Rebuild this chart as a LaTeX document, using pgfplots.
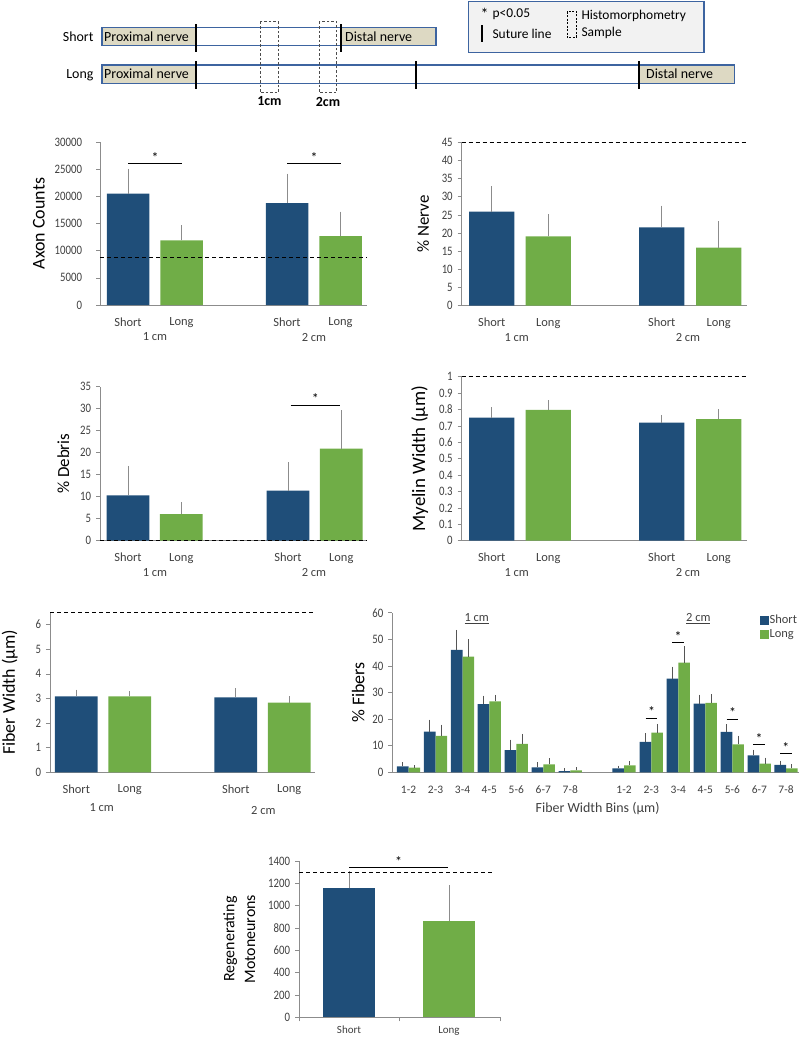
\documentclass[border=0pt]{standalone}
\usepackage{fontspec}
\setmainfont{Carlito}
\usepackage{pgfplots}
\pgfplotsset{compat=1.18}
\definecolor{cblue}{HTML}{1F4E79}
\definecolor{cgreen}{HTML}{70AD47}
\definecolor{ctan}{HTML}{DDD9C3}
\definecolor{boxblue}{HTML}{3D64A0}
\definecolor{axisgray}{HTML}{8C8C8C}
\definecolor{tickgray}{HTML}{404040}
\definecolor{errgray}{HTML}{8C8C8C}
\definecolor{errdark}{HTML}{555555}
\newcommand{\fs}[1]{\fontsize{#1}{#1}\selectfont}
\pgfplotsset{
  panel/.style={
    scale only axis, clip=false, ybar, bar shift=0pt,
    anchor=south west,
    axis x line*=bottom, axis y line*=left,
    axis line style={draw=axisgray, line width=0.8pt},
    ymin=0, scaled y ticks=false,
    ytick style={draw=axisgray, line width=0.6pt},
    major tick length=4bp, tick align=outside,
    xtick style={draw=none},
    tick label style={font=\fs{10.8}, text=tickgray},
    yticklabel style={yscale=1.2, xshift=-1.5bp},
    xticklabel style={font=\fs{12.5}, text=tickgray, yshift=-5bp},
    /pgf/number format/assume math mode=true,
    /pgf/number format/1000 sep={},
    ylabel style={font=\fs{17}, text=black},
  },
  sbar/.style={fill=cblue, draw=none, bar width=#1,
    error bars/.cd, y dir=plus, y explicit,
    error bar style={errgray, line width=0.7pt},
    error mark options={errgray, line width=0.7pt, mark size=1.3bp}},
  gbar/.style={fill=cgreen, draw=none, bar width=#1,
    error bars/.cd, y dir=plus, y explicit,
    error bar style={errgray, line width=0.7pt},
    error mark options={errgray, line width=0.7pt, mark size=1.3bp}},
  hsbar/.style={fill=cblue, draw=none, bar width=#1,
    error bars/.cd, y dir=plus, y explicit,
    error bar style={errdark, line width=0.7pt},
    error mark options={errdark, line width=0.7pt, mark size=1.2bp}},
  hgbar/.style={fill=cgreen, draw=none, bar width=#1,
    error bars/.cd, y dir=plus, y explicit,
    error bar style={errdark, line width=0.7pt},
    error mark options={errdark, line width=0.7pt, mark size=1.2bp}},
  refline/.style={sharp plot, black, line width=1pt, dash pattern=on 4bp off 3bp, forget plot},
  sig/.style={sharp plot, black, line width=0.8pt, forget plot},
}
\tikzset{
  star/.style={above, inner sep=1bp, font=\fs{14}},
  grp/.style={yshift=-32bp, font=\fs{12.5}, text=tickgray},
}
\begin{document}
\begin{tikzpicture}
\useasboundingbox (0,0) rectangle (800bp,-1037bp);
\begin{scope}[x=1bp,y=-1bp, font=\fs{14}]
% short
\node[anchor=east] at (97,36.7) {Short};
\fill[ctan] (102,27.7) rectangle (196.4,45.7);
\fill[ctan] (341.8,27.7) rectangle (436,45.7);
\draw[boxblue, line width=1.2pt] (102,27.7) rectangle (436,45.7);
\node[anchor=west, inner sep=1bp] at (103,36.7) {Proximal nerve};
\node[anchor=west, inner sep=1bp] at (344,36.7) {Distal nerve};
% long
\node[anchor=east] at (97,75) {Long};
\fill[ctan] (102,65) rectangle (196.4,83.3);
\fill[ctan] (638.8,65) rectangle (734.7,83.3);
\draw[boxblue, line width=1.2pt] (102,65) rectangle (734.7,83.3);
\node[anchor=west, inner sep=1bp] at (103,74.2) {Proximal nerve};
\node[anchor=west, inner sep=1bp] at (645,74.2) {Distal nerve};
% suture lines
\draw[line width=2pt] (196.4,24.3) -- (196.4,51.7);
\draw[line width=2pt] (340.8,24.3) -- (340.8,51.7);
\draw[line width=2pt] (196.4,61) -- (196.4,89.3);
\draw[line width=2pt] (415.8,61) -- (415.8,89.3);
\draw[line width=2pt] (638.8,61) -- (638.8,89.3);
% samples
\draw[black!70, line width=0.7pt, dash pattern=on 2.5bp off 2bp] (260,21.7) rectangle (278,92.7);
\draw[black!70, line width=0.7pt, dash pattern=on 2.5bp off 2bp] (319.4,21.7) rectangle (336.7,92.7);
\node[font=\fs{14}\bfseries] at (269.4,101.5) {1cm};
\node[font=\fs{14}\bfseries] at (328,101.5) {2cm};
% legend box
\draw[boxblue, fill=black!5, line width=1.2pt] (468.4,1.2) rectangle (704,52.3);
\node[font=\fs{16}] at (484.7,14) {*};
\node[anchor=west, font=\fs{13.5}] at (489,14.5) {p<0.05};
\draw[line width=2pt] (482,25) -- (482,41.7);
\node[anchor=west, font=\fs{13.5}] at (489,33.5) {Suture line};
\draw[line width=0.6pt, dash pattern=on 2bp off 1.5bp] (567,11.7) rectangle (576.5,37.3);
\node[anchor=west, font=\fs{13.5}] at (578,16) {Histomorphometry};
\node[anchor=west, font=\fs{13.5}] at (578,32.7) {Sample};
\end{scope}

% ---------- Axon counts
\begin{axis}[panel, at={(100bp,-305bp)}, width=267bp, height=163bp,
  xmin=100, xmax=367, ymax=30000, ytick={0,5000,...,30000},
  yticklabel style={xshift=-9bp},
  xtick={128,181.5,287,340.5}, xticklabels={Short,Long,Short,Long},
  ylabel={Axon Counts}, ylabel style={font=\fs{18}}, ylabel shift=3bp]
\addplot[sbar=42.5] coordinates {(128,20500) +- (0,4300) (287,18750) +- (0,5200)};
\addplot[gbar=42.5] coordinates {(181.5,11900) +- (0,2500) (340.5,12700) +- (0,4250)};
\addplot[refline] coordinates {(100,8700) (367,8700)};
\addplot[sig] coordinates {(128,26000) (182,26000)};
\addplot[sig] coordinates {(287,26000) (341,26000)};
\node[star] at (axis cs:155,26000) {*};
\node[star] at (axis cs:314,26000) {*};
\node[grp] at (axis cs:155,0) {1 cm};
\node[grp] at (axis cs:314,0) {2 cm};
\end{axis}

% ---------- % Nerve
\begin{axis}[panel, at={(461.7bp,-305.7bp)}, width=285bp, height=163.4bp,
  xmin=461.7, xmax=746.7, ymax=45, ytick={0,5,...,45},
  xtick={491.7,548.3,661.7,718.7}, xticklabels={Short,Long,Short,Long},
  ylabel={\% Nerve}, ylabel shift=6bp]
\addplot[sbar=45.3] coordinates {(491.7,25.9) +- (0,6.7) (661.7,21.6) +- (0,5.6)};
\addplot[gbar=45.3] coordinates {(548.3,19.1) +- (0,5.7) (718.7,16.0) +- (0,6.9)};
\addplot[refline] coordinates {(461.7,45) (746.7,45)};
\node[grp] at (axis cs:516.7,0) {1 cm};
\node[grp] at (axis cs:688,0) {2 cm};
\end{axis}

% ---------- % Debris
\begin{axis}[panel, at={(100bp,-540.7bp)}, width=266.7bp, height=154bp,
  xmin=100, xmax=366.7, ymax=35, ytick={0,5,...,35},
  xtick={128,181.3,288,341.3}, xticklabels={Short,Long,Short,Long},
  ylabel={\% Debris}, ylabel shift=4bp]
\addplot[sbar=42.7] coordinates {(128,10.3) +- (0,6.4) (288,11.4) +- (0,6.1)};
\addplot[gbar=42.7] coordinates {(181.3,6.06) +- (0,2.4) (341.3,20.9) +- (0,8.4)};
\addplot[refline] coordinates {(100,0) (366.7,0)};
\addplot[sig] coordinates {(290.7,30.8) (340,30.8)};
\node[star] at (axis cs:315.3,30.8) {*};
\node[grp] at (axis cs:155,0) {1 cm};
\node[grp] at (axis cs:314,0) {2 cm};
\end{axis}

% ---------- Myelin width
\begin{axis}[panel, at={(461.7bp,-540.7bp)}, width=285bp, height=164bp,
  xmin=461.7, xmax=746.7, ymax=1, ytick={0,0.1,0.2,0.3,0.4,0.5,0.6,0.7,0.8,0.9,1},
  yticklabels={0,0.1,0.2,0.3,0.4,0.5,0.6,0.7,0.8,0.9,1},
  xtick={491.7,548.3,661.7,718.7}, xticklabels={Short,Long,Short,Long},
  ylabel={Myelin Width (µm)}, ylabel style={font=\fs{19}}, ylabel shift=4bp]
\addplot[sbar=45.3] coordinates {(491.7,0.75) +- (0,0.057) (661.7,0.72) +- (0,0.04)};
\addplot[gbar=45.3] coordinates {(548.3,0.797) +- (0,0.05) (718.7,0.742) +- (0,0.053)};
\addplot[refline] coordinates {(461.7,1) (746.7,1)};
\node[grp] at (axis cs:516.7,0) {1 cm};
\node[grp] at (axis cs:688,0) {2 cm};
\end{axis}

% ---------- Fiber width
\begin{axis}[panel, at={(50bp,-772.3bp)}, width=265bp, height=160bp,
  xmin=50, xmax=315, ymax=6.5, ytick={0,1,...,6},
  xtick={76.3,129.7,235.8,289.2}, xticklabels={Short,Long,Short,Long},
  ylabel={Fiber Width (µm)}, ylabel style={font=\fs{18}}, ylabel shift=11bp]
\addplot[sbar=42.8] coordinates {(76.3,3.08) +- (0,0.23) (235.8,3.04) +- (0,0.32)};
\addplot[gbar=42.8] coordinates {(129.7,3.08) +- (0,0.17) (289.2,2.83) +- (0,0.2)};
\addplot[refline] coordinates {(50,6.5) (315,6.5)};
\node[grp, yshift=-3bp] at (axis cs:101.7,0) {1 cm};
\node[grp, yshift=-6bp] at (axis cs:263.3,0) {2 cm};
\end{axis}

% ---------- % Fibers histogram
\begin{axis}[panel, at={(392.3bp,-772.3bp)}, width=406.7bp, height=159.6bp,
  xmin=392.3, xmax=799, ymax=60, ytick={0,10,...,60},
  xtick={408.5,435.5,462.5,489.3,516.3,543.3,570.3,624,651.3,678.3,705.3,732.3,759.3,786},
  xticklabels={1-2,2-3,3-4,4-5,5-6,6-7,7-8,1-2,2-3,3-4,4-5,5-6,6-7,7-8},
  xticklabel style={font=\fs{11.5}, yshift=-1bp},
  ylabel={\% Fibers}, ylabel style={font=\fs{18}}, ylabel shift=1bp,
  xlabel={Fiber Width Bins (µm)}, xlabel style={font=\fs{14}, text=tickgray, yshift=-2bp, xshift=2bp},
  legend style={at={(0.903,0.995)}, anchor=north west, draw=none, fill=none,
    font=\fs{12.5}, text=tickgray, row sep=1bp, inner sep=0pt, nodes={inner sep=1.5bp}},
  legend cell align=left]
\addlegendimage{legend image code/.code={\fill[cblue] (0bp,-4bp) rectangle (8bp,4bp);}}
\addlegendentry{Short}
\addlegendimage{legend image code/.code={\fill[cgreen] (0bp,-4bp) rectangle (8bp,4bp);}}
\addlegendentry{Long}
\addplot[forget plot, hsbar=11.6] coordinates {
 (402.7,2.26) +- (0,1.1) (429.7,15.3) +- (0,4.1) (456.7,46.0) +- (0,7.1) (483.5,25.6) +- (0,2.8)
 (510.5,8.3) +- (0,3.5) (537.5,1.9) +- (0,1.4) (564.5,0.4) +- (0,0.6)
 (618.2,1.5) +- (0,0.6) (645.5,11.4) +- (0,2.9) (672.5,35.2) +- (0,4.1) (699.5,25.8) +- (0,3.0)
 (726.5,15.2) +- (0,2.5) (753.5,6.4) +- (0,1.7) (780.2,2.8) +- (0,1.1)};
\addplot[forget plot, hgbar=11.6] coordinates {
 (414.3,1.75) +- (0,0.5) (441.3,13.7) +- (0,3.8) (468.3,43.5) +- (0,6.0) (495.1,26.7) +- (0,2.0)
 (522.1,10.7) +- (0,3.3) (549.1,3.0) +- (0,1.9) (576.1,0.75) +- (0,0.75)
 (629.8,2.6) +- (0,1.2) (657.1,14.9) +- (0,2.9) (684.1,41.2) +- (0,5.7) (711.1,26.1) +- (0,2.8)
 (738.1,10.5) +- (0,2.8) (765.1,3.3) +- (0,1.8) (791.8,1.5) +- (0,1.1)};
\addplot[sig] coordinates {(645.7,20.4) (657.3,20.4)};
\addplot[sig] coordinates {(672.3,48.9) (684,48.9)};
\addplot[sig] coordinates {(726.7,20.0) (738.3,20.0)};
\addplot[sig] coordinates {(753.3,10.5) (765,10.5)};
\addplot[sig] coordinates {(780,7.0) (791.7,7.0)};
\node[star] at (axis cs:651.5,20.4) {*};
\node[star] at (axis cs:678.2,48.9) {*};
\node[star] at (axis cs:732.5,20.0) {*};
\node[star] at (axis cs:759.2,10.5) {*};
\node[star] at (axis cs:785.9,7.0) {*};
\node[font=\fs{12.5}, text=tickgray] at (axis cs:476.7,57.9) {\underline{1 cm}};
\node[font=\fs{12.5}, text=tickgray] at (axis cs:698.3,57.9) {\underline{2 cm}};
\end{axis}

% ---------- Motoneurons
\begin{axis}[panel, at={(299bp,-1017.3bp)}, width=201bp, height=156.3bp,
  xmin=299, xmax=500, ymax=1400, ytick={0,200,...,1400},
  xtick={349,449}, xticklabels={Short,Long},
  xticklabel style={font=\fs{11}, yshift=3.5bp},
  extra x ticks={299,399.5,500}, extra x tick labels={,,},
  extra x tick style={xtick style={draw=axisgray, line width=0.6pt}, major tick length=4bp},
  ylabel={Regenerating\\Motoneurons}, ylabel style={font=\fontsize{16}{21}\selectfont, align=center},
  ylabel shift=6bp]
\addplot[sbar=52.7] coordinates {(349,1155) +- (0,143)};
\addplot[gbar=52.7] coordinates {(449,860) +- (0,310)};
\addplot[refline] coordinates {(299,1300) (495,1300)};
\addplot[sig] coordinates {(349,1340) (448.3,1340)};
\node[star] at (axis cs:398.7,1340) {*};
\end{axis}
\end{tikzpicture}
\end{document}
